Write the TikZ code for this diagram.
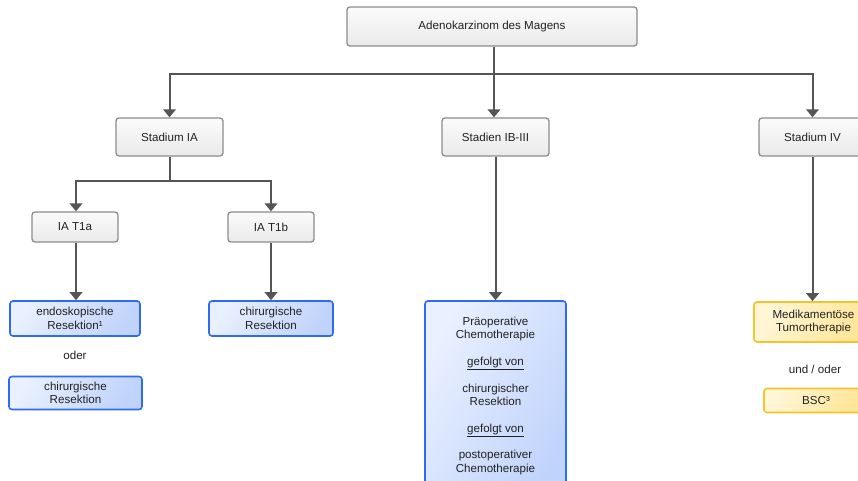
\documentclass[tikz,border=0pt]{standalone}
\usepackage{fontspec}
\setmainfont{Liberation Sans}
\usetikzlibrary{arrows.meta,calc}
\definecolor{linec}{HTML}{555555}
\definecolor{txtc}{HTML}{222222}
\definecolor{grayb}{HTML}{8C8C8C}
\definecolor{grayt}{HTML}{FBFBFB}
\definecolor{grayd}{HTML}{EAEAEA}
\definecolor{blueb}{HTML}{2C6BF2}
\definecolor{bluel}{HTML}{E9F0FF}
\definecolor{blued}{HTML}{C0D3FB}
\definecolor{yelb}{HTML}{F5C32C}
\definecolor{yell}{HTML}{FFF6D6}
\definecolor{yeld}{HTML}{FFE596}
\tikzset{
  base/.style={rounded corners=3pt, align=center, text=txtc, inner sep=2pt,
    font=\fontsize{11.6}{13.4}\selectfont},
  graybox/.style={base, draw=grayb, line width=1.3pt, top color=grayt, bottom color=grayd},
  bluebox/.style={base, draw=blueb, line width=1.6pt, shading=axis, left color=bluel, right color=blued, shading angle=60},
  yelbox/.style={base, draw=yelb, line width=1.6pt, shading=axis, left color=yell, right color=yeld, shading angle=60},
  plain/.style={align=center, text=txtc, inner sep=1pt, font=\fontsize{11.6}{13.4}\selectfont},
  conn/.style={draw=linec, line width=2pt},
  arr/.style={conn, -{Triangle[width=12.5pt,length=8pt]}},
}
\begin{document}
\begin{tikzpicture}[x=1pt,y=-1pt]
\useasboundingbox (0,0) rectangle (858,481);
\clip (0,0) rectangle (858,481);
\fill[white] (0,0) rectangle (858,481);

\node[graybox, minimum width=290pt, minimum height=39pt] (top) at (492,26.5) {Adenokarzinom des Magens};
\node[graybox, minimum width=107pt, minimum height=38pt] (s1) at (169.5,137) {Stadium IA};
\node[graybox, minimum width=107pt, minimum height=38pt] (s2) at (495.5,137) {Stadien IB-III};
\node[graybox, minimum width=107pt, minimum height=38pt] (s3) at (812.5,137) {Stadium IV};
\node[graybox, minimum width=86pt, minimum height=30pt] (t1a) at (75,227) {IA T1a};
\node[graybox, minimum width=86pt, minimum height=30pt] (t1b) at (271,227) {IA T1b};

\node[bluebox, minimum width=130pt, minimum height=35pt] (r1) at (75,318.5) {endoskopische\\Resektion¹};
\node[plain] (oder) at (75,355) {oder};
\node[bluebox, minimum width=133pt, minimum height=33pt] (r2) at (75.5,393) {chirurgische\\Resektion};
\node[bluebox, minimum width=124pt, minimum height=35pt] (r3) at (271,318.5) {chirurgische\\Resektion};

\node[bluebox, minimum width=141pt, minimum height=200pt] (b2) at (495.5,401) {};
\node[plain, anchor=north] (b2t) at ($(b2.north)+(0,15.5)$) {Präoperative\\Chemotherapie\\[13.3pt]\underline{gefolgt von}\\[13.3pt]chirurgischer\\Resektion\\[13.3pt]\underline{gefolgt von}\\[13.3pt]postoperativer\\Chemotherapie};

\node[yelbox, minimum width=119pt, minimum height=40pt] (m) at (813.5,322) {Medikamentöse\\Tumortherapie};
\node[plain] (undoder) at (815,369) {und / oder};
\node[yelbox, minimum width=104pt, minimum height=24pt] (bsc) at (816,400.5) {BSC³};

\coordinate (j0) at ($(top.south)+(2,0)$);
\coordinate (j1) at ($(j0)+(0,27)$);
\draw[arr] (j0) -- (j0 |- s2.north);
\draw[arr] (j1) -| (s1.north);
\draw[arr] (j1) -| (s3.north);

\coordinate (j2) at ($(s1.south)+(0,24)$);
\draw[conn] (s1.south) -- (j2);
\draw[arr] (j2) -| ($(t1a.north)+(1,0)$);
\draw[arr] (j2) -| (t1b.north);

\draw[arr] ($(t1a.south)+(1,0)$) -- ($(r1.north)+(1,0)$);
\draw[arr] (t1b.south) -- (r3.north);
\draw[arr] (s2.south) -- (b2.north);
\draw[arr] (s3.south) -- (s3.south |- m.north);
\end{tikzpicture}
\end{document}
